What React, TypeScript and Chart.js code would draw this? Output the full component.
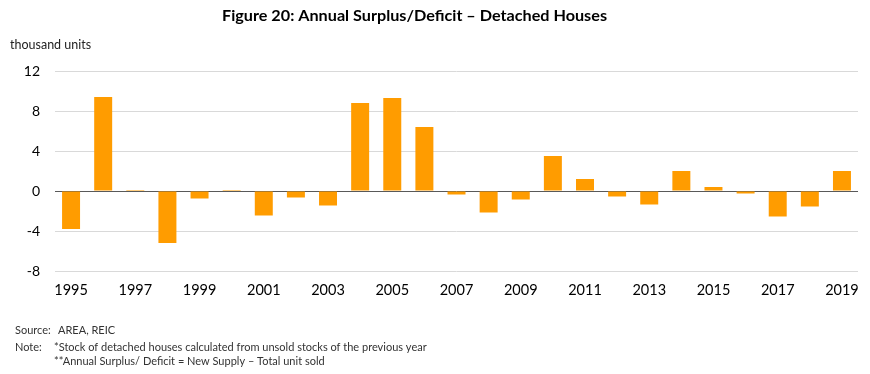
import React, { useEffect, useRef } from "react";
import { Chart, registerables } from "chart.js";

Chart.register(...registerables);

const years = [
  "1995", "1996", "1997", "1998", "1999", "2000", "2001", "2002", "2003", "2004",
  "2005", "2006", "2007", "2008", "2009", "2010", "2011", "2012", "2013", "2014",
  "2015", "2016", "2017", "2018", "2019",
];
const surplus = [
  -3.8, 9.4, 0.1, -5.2, -0.75, 0.1, -2.45, -0.65, -1.45, 8.8,
  9.3, 6.4, -0.35, -2.15, -0.85, 3.5, 1.2, -0.55, -1.35, 2.0,
  0.4, -0.25, -2.55, -1.55, 2.0,
];
const yMin = -8;
const yMax = 12;
const yStep = 4;

const titleText = "Figure 20: Annual Surplus/Deficit \u2013 Detached Houses";
const unitText = "thousand units";
const sourceLabel = "Source:";
const sourceText = "AREA, REIC";
const noteLabel = "Note:";
const noteLines = [
  "*Stock of detached houses calculated from unsold stocks of the previous year",
  "**Annual Surplus/ Deficit = New Supply \u2013 Total unit sold",
];

const FONT = "Lato, 'Open Sans', sans-serif";

function fitText(ctx: any, text: string, x: number, y: number, width: number) {
  const w = ctx.measureText(text).width;
  ctx.save();
  ctx.translate(x, y);
  ctx.scale(width / w, 1);
  ctx.fillText(text, 0, 0);
  ctx.restore();
}

const textPlugin = {
  id: "texts",
  afterDraw(chart: any) {
    const ctx = chart.ctx;
    ctx.save();
    ctx.fillStyle = "#000";
    ctx.textBaseline = "middle";
    ctx.textAlign = "left";
    ctx.font = `bold 15px ${FONT}`;
    fitText(ctx, titleText, 222, 16, 385);
    ctx.font = `12.5px ${FONT}`;
    ctx.fillStyle = "#222";
    ctx.fillText(unitText, 10, 45);
    ctx.font = `11px ${FONT}`;
    ctx.fillStyle = "#333";
    ctx.fillText(sourceLabel, 15, 330);
    ctx.fillText(sourceText, 58, 330);
    ctx.fillText(noteLabel, 15, 347);
    ctx.fillText(noteLines[0], 54, 347);
    ctx.fillText(noteLines[1], 54, 361);
    ctx.restore();
  },
};

export default function App() {
  const ref = useRef<HTMLCanvasElement>(null);
  useEffect(() => {
    if (!ref.current) return;
    const chart = new Chart(ref.current, {
      type: "bar",
      data: {
        labels: years,
        datasets: [
          {
            data: surplus,
            backgroundColor: "#FF9C00",
            borderWidth: 0,
            categoryPercentage: 1,
            barPercentage: 0.56,
          },
        ],
      },
      options: {
        animation: false,
        responsive: false,
        layout: { padding: { top: 71, right: 11, left: 0, bottom: 0 } },
        plugins: { legend: { display: false }, tooltip: { enabled: false }, title: { display: false } },
        scales: {
          x: {
            grid: { display: false, drawTicks: false },
            border: { display: false },
            ticks: {
              autoSkip: false,
              maxRotation: 0,
              padding: 11,
              color: "#000",
              font: { family: FONT, size: 14.5 },
              callback: (_v: any, i: number) => (i % 2 === 0 ? years[i] : ""),
            },
            afterFit: (s: any) => {
              s.height = 103;
            },
          },
          y: {
            min: yMin,
            max: yMax,
            ticks: {
              stepSize: yStep,
              padding: 15,
              color: "#000",
              font: { family: FONT, size: 14 },
            },
            grid: {
              drawTicks: false,
              color: (c: any) => (c.tick && c.tick.value === 0 ? "#595959" : "#D9D9D9"),
              lineWidth: 1,
            },
            border: { display: false },
            afterFit: (s: any) => {
              s.width = 55;
            },
          },
        },
      },
      plugins: [textPlugin],
    });
    return () => chart.destroy();
  }, []);
  return (
    <div style={{ position: "absolute", left: 0, top: 0, width: 870, height: 374, background: "#fff" }}>
      <canvas ref={ref} width={870} height={374} style={{ display: "block" }} />
    </div>
  );
}
